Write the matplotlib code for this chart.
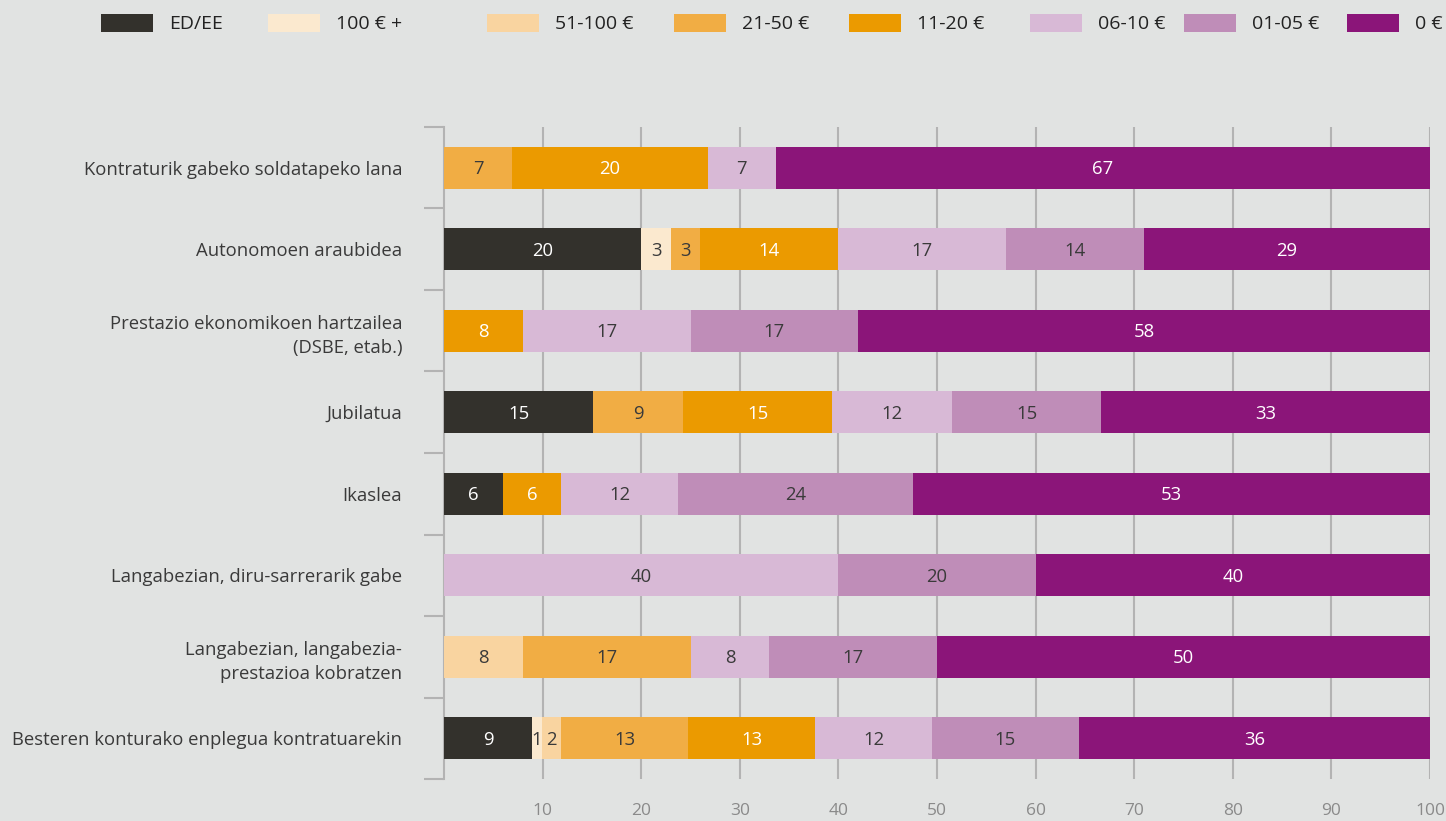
import numpy as np
import matplotlib
matplotlib.use("Agg")
from matplotlib import pyplot as plt
from matplotlib.patches import Rectangle

plt.rcParams['font.family'] = ['Open Sans', 'DejaVu Sans']

categorias = [
    "Kontraturik gabeko soldatapeko lana",
    "Autonomoen araubidea",
    "Prestazio ekonomikoen hartzailea\n(DSBE, etab.)",
    "Jubilatua",
    "Ikaslea",
    "Langabezian, diru-sarrerarik gabe",
    "Langabezian, langabezia-\nprestazioa kobratzen",
    "Besteren konturako enplegua kontratuarekin",
]

series = ["ED/EE", "100 € +", "51-100 €", "21-50 €", "11-20 €", "06-10 €", "01-05 €", "0 €"]

ed_ee    = [0, 20, 0, 15, 6, 0, 0, 9]
e100     = [0, 3, 0, 0, 0, 0, 0, 1]
e51_100  = [0, 0, 0, 0, 0, 0, 8, 2]
e21_50   = [7, 3, 0, 9, 0, 0, 17, 13]
e11_20   = [20, 14, 8, 15, 6, 0, 0, 13]
e06_10   = [7, 17, 17, 12, 12, 40, 8, 12]
e01_05   = [0, 14, 17, 15, 24, 20, 17, 15]
e0       = [67, 29, 58, 33, 53, 40, 50, 36]

colores = ["#33312c", "#fbe9cf", "#f9d4a0", "#f1ad44", "#eb9a00", "#d8b9d6", "#bf8db8", "#8b1579"]
texto_color = ["white", "#3a3a3a", "#3a3a3a", "#3a3a3a", "white", "#3a3a3a", "#3a3a3a", "white"]

valores = np.array([ed_ee, e100, e51_100, e21_50, e11_20, e06_10, e01_05, e0], dtype=float)
# las filas suman 99-101 por redondeo: se normalizan a 100
anchos = valores / valores.sum(axis=0) * 100

fondo = "#e1e3e2"
gris = "#b3b3b3"

fig = plt.figure(figsize=(14.46, 8.21), dpi=100, facecolor=fondo)
ax = fig.add_axes([444 / 1446, 1 - 779 / 821, (1430 - 444) / 1446, (779 - 127) / 821])
ax.set_facecolor(fondo)

y = np.arange(len(categorias))
izq = np.zeros(len(categorias))
for i in range(len(series)):
    ax.barh(y, anchos[i], left=izq, height=0.515, color=colores[i], zorder=3)
    for j in range(len(categorias)):
        if valores[i, j] > 0:
            ax.text(izq[j] + anchos[i, j] / 2, y[j] + 0.02, "%d" % valores[i, j],
                    ha="center", va="center", fontsize=13.3, color=texto_color[i], zorder=4)
    izq += anchos[i]

ax.set_xlim(0, 100)
ax.set_ylim(len(categorias) - 0.5, -0.5)

for s in ["top", "right", "bottom"]:
    ax.spines[s].set_visible(False)
ax.spines["left"].set_color(gris)
ax.spines["left"].set_linewidth(1.5)

ax.set_xticks(np.arange(10, 101, 10))
ax.tick_params(axis="x", length=0, pad=17, labelsize=12.5, labelcolor="#8a8a8a")
ax.grid(axis="x", color=gris, linewidth=1.5, zorder=0)

ax.set_yticks(np.arange(-0.5, len(categorias), 1))
ax.set_yticklabels([])
ax.tick_params(axis="y", which="major", length=14.5, width=1.5, color=gris)
ax.set_yticks(y, minor=True)
ax.set_yticklabels(categorias, minor=True, fontsize=13.3, color="#3a3a3a", linespacing=1.45)
ax.tick_params(axis="y", which="minor", length=0, pad=30)

# leyenda manual
ley_x = [101, 268, 487, 674, 849, 1030, 1184, 1347]
for i in range(len(series)):
    fig.patches.append(Rectangle((ley_x[i] / 1446, 1 - 32 / 821), 52 / 1446, 18 / 821,
                                 transform=fig.transFigure, facecolor=colores[i], edgecolor="none"))
    fig.text((ley_x[i] + 68) / 1446, 1 - 24 / 821, series[i], ha="left", va="center",
             fontsize=14, color="#222222")

plt.savefig("out.png", dpi=100, facecolor=fondo)
